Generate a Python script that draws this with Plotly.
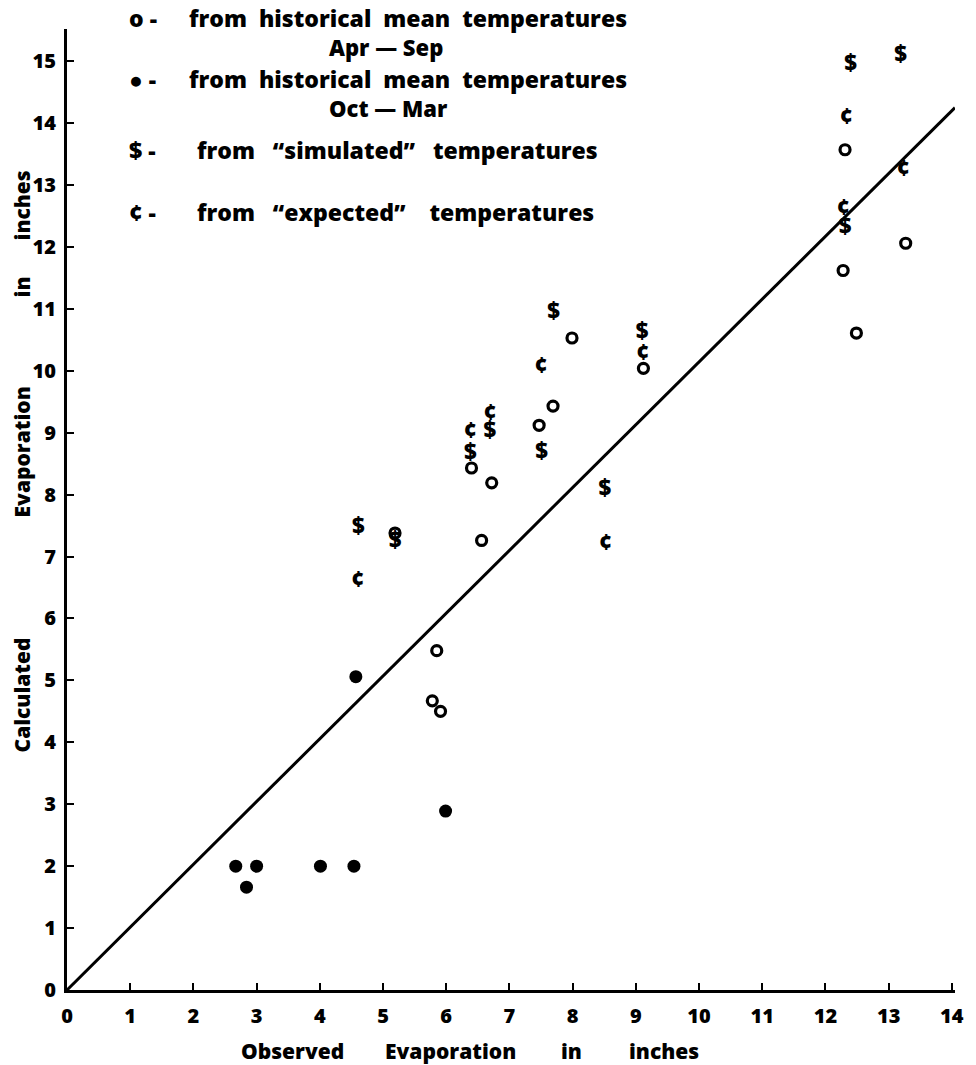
import plotly.graph_objects as go

# ---- data ----
apr_sep_x = [5.19, 5.78, 5.91, 5.85, 6.40, 6.56, 6.72, 7.47, 7.69, 7.99, 9.12, 12.28, 12.31, 12.49, 13.27]
apr_sep_y = [7.38, 4.67, 4.50, 5.48, 8.43, 7.26, 8.19, 9.12, 9.43, 10.53, 10.04, 11.62, 13.57, 10.61, 12.06]

oct_mar_x = [2.67, 2.84, 3.00, 4.01, 4.54, 4.57, 5.99]
oct_mar_y = [2.00, 1.66, 2.00, 2.00, 2.00, 5.06, 2.89]

simulated_x = [4.61, 5.19, 6.38, 6.69, 7.51, 7.70, 8.51, 9.10, 12.31, 12.40, 13.19]
simulated_y = [7.46, 7.22, 8.65, 9.00, 8.66, 10.92, 8.06, 10.60, 12.30, 14.93, 15.08]

expected_x = [4.60, 6.38, 6.69, 7.50, 8.52, 9.11, 12.28, 12.33, 13.23]
expected_y = [6.60, 9.00, 9.30, 10.05, 7.19, 10.26, 12.61, 14.08, 13.23]

line_x = [0, 14.05]
line_y = [0, 14.25]

x_ticks = list(range(0, 15))
y_ticks = list(range(0, 16))

# ---- figure ----
W, H = 976, 1065
ML, MR, MT, MB = 67, 12, 29, 75
FONT = "Open Sans"
BLACK = "#000000"

fig = go.Figure()
fig.add_trace(go.Scatter(x=line_x, y=line_y, mode="lines",
                         line=dict(color=BLACK, width=3), showlegend=False, hoverinfo="skip"))
fig.add_trace(go.Scatter(x=apr_sep_x, y=apr_sep_y, mode="markers", name="Apr-Sep",
                         marker=dict(symbol="circle-open", size=10, color=BLACK, line=dict(width=3.2, color=BLACK)),
                         showlegend=False))
fig.add_trace(go.Scatter(x=oct_mar_x, y=oct_mar_y, mode="markers", name="Oct-Mar",
                         marker=dict(symbol="circle", size=13, color=BLACK), showlegend=False))
fig.add_trace(go.Scatter(x=simulated_x, y=simulated_y, mode="text", name="simulated",
                         text=["$"] * len(simulated_x), textposition="middle center",
                         textfont=dict(family=FONT, size=22, color=BLACK, weight=800), showlegend=False))
fig.add_trace(go.Scatter(x=expected_x, y=expected_y, mode="text", name="expected",
                         text=["¢"] * len(expected_x), textposition="middle center",
                         textfont=dict(family=FONT, size=22, color=BLACK, weight=800), showlegend=False))

def px(xp):
    return (xp - ML) / (W - ML - MR)

def py(yp):
    return (H - MB - yp) / (H - MT - MB)

ann = []
def txt(s, xp, yp, size=19, xanchor="left", angle=0):
    ann.append(dict(text=s, x=px(xp), y=py(yp), xref="paper", yref="paper",
                    xanchor=xanchor, yanchor="middle", showarrow=False, textangle=angle,
                    font=dict(family=FONT, size=size, color=BLACK, weight=800)))

# legend block
LS = 23
legend_rows = [
    ("o -", "from  historical  mean  temperatures", 18, 188),
    ("● -", "from  historical  mean  temperatures", 79, 188),
    ("$ -", "from   \u201csimulated\u201d   temperatures", 150, 196),
    ("¢ -", "from   \u201cexpected\u201d    temperatures", 212, 196),
]
for sym, label, yp, xs in legend_rows:
    txt(sym, 128, yp, size=LS)
    txt(label.replace(" ", "\u00a0"), xs, yp, size=LS)
txt("Apr\u00a0\u2014\u00a0Sep", 330, 47, size=22)
txt("Oct\u00a0\u2014\u00a0Mar", 330, 108, size=22)

# axis titles
TS = 21
for word, xc in [("Observed", 295), ("Evaporation", 454), ("in", 577), ("inches", 670)]:
    txt(word, xc, 1051, size=TS, xanchor="center")
for word, yc in [("Calculated", 695), ("Evaporation", 452), ("in", 287), ("inches", 205)]:
    txt(word, 22, yc, size=TS, xanchor="center", angle=-90)

fig.update_layout(
    width=W, height=H,
    margin=dict(l=ML, r=MR, t=MT, b=MB),
    paper_bgcolor="white", plot_bgcolor="white",
    annotations=ann,
    xaxis=dict(range=[0, 14.05], tickvals=x_ticks, showgrid=False, zeroline=False,
               showline=True, linecolor=BLACK, linewidth=3,
               ticks="inside", ticklen=7, tickwidth=2, tickcolor=BLACK,
               tickfont=dict(family=FONT, size=20, color=BLACK, weight=800),
               ticklabelstandoff=6),
    yaxis=dict(range=[0, 15.52], tickvals=y_ticks, showgrid=False, zeroline=False,
               showline=True, linecolor=BLACK, linewidth=3,
               ticks="inside", ticklen=7, tickwidth=2, tickcolor=BLACK,
               tickfont=dict(family=FONT, size=20, color=BLACK, weight=800),
               ticklabelstandoff=4),
)

fig.write_html("out.html")
